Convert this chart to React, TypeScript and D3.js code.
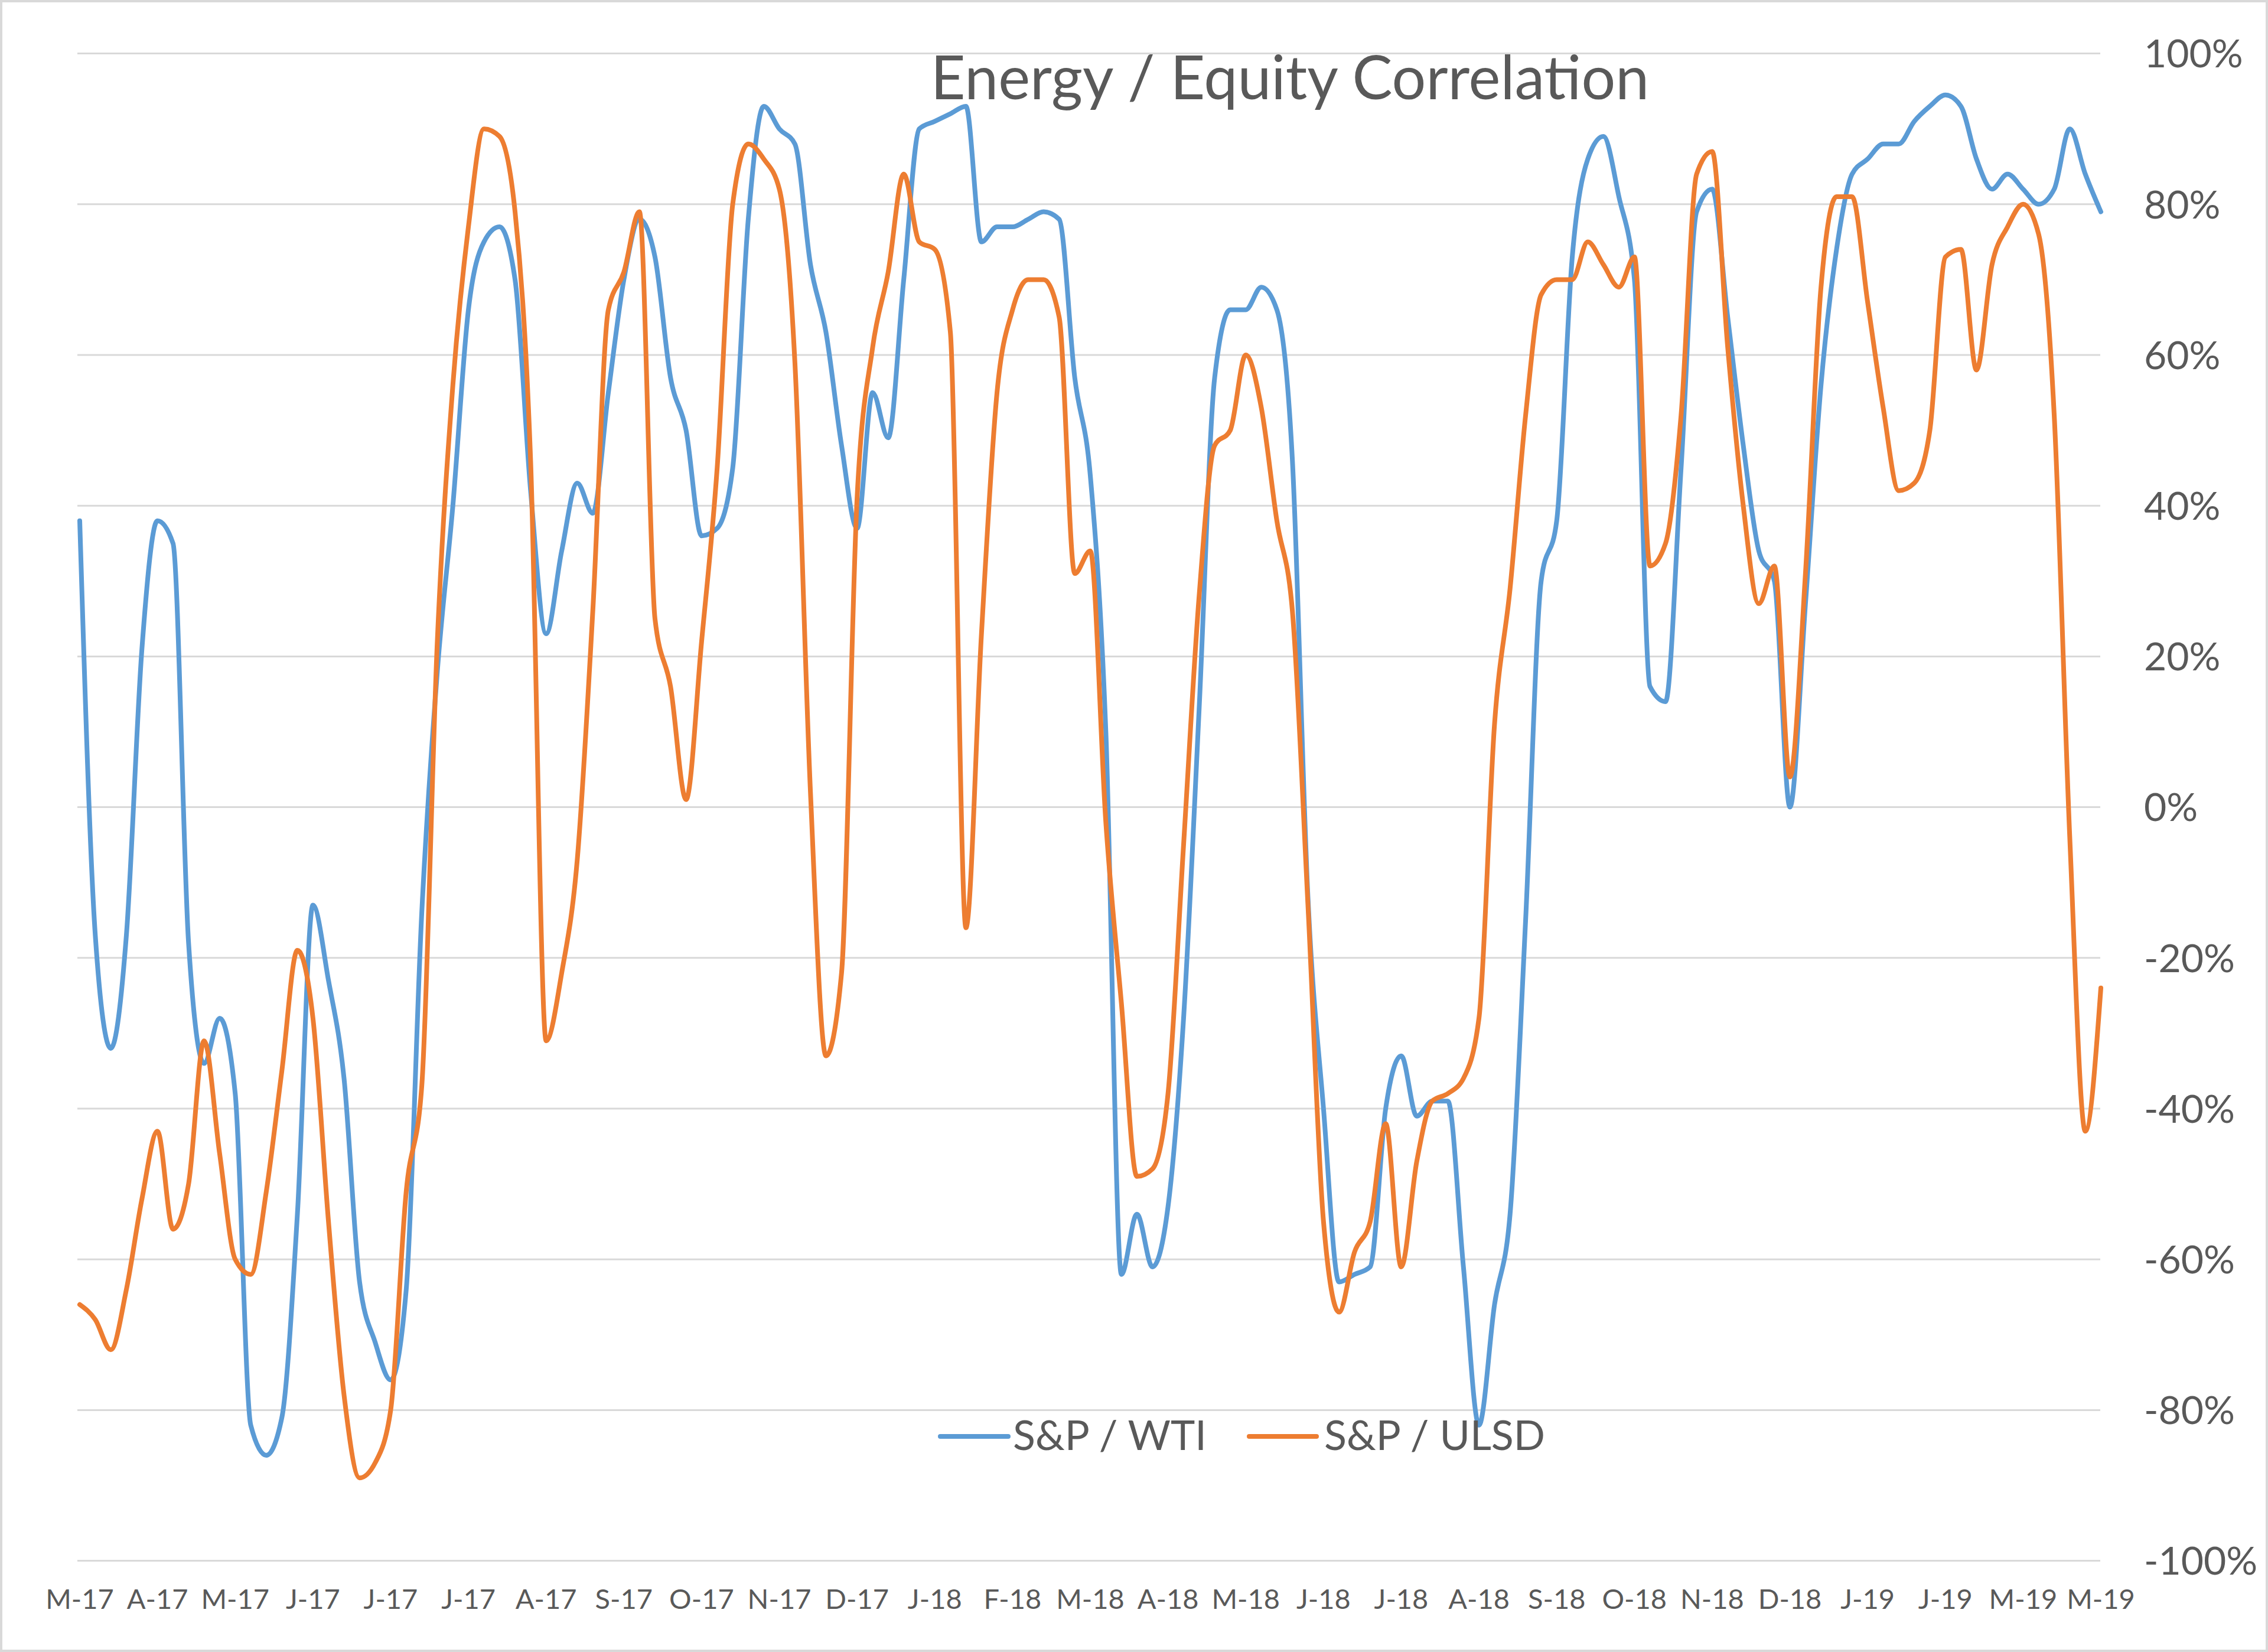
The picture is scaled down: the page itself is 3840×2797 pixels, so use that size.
import React from "react";
import * as d3 from "d3";

const W = 3840;
const H = 2797;

// one label every 5 samples
const xLabels = [
  "M-17", "A-17", "M-17", "J-17", "J-17", "J-17", "A-17", "S-17", "O-17",
  "N-17", "D-17", "J-18", "F-18", "M-18", "A-18", "M-18", "J-18", "J-18",
  "A-18", "S-18", "O-18", "N-18", "D-18", "J-19", "J-19", "M-19", "M-19",
];
const STEP = 5;

const yTicks = [100, 80, 60, 40, 20, 0, -20, -40, -60, -80, -100];

const spWti = [
  38, -17, -32, -17, 21, 38, 35, -18, -34, -28,
  -38, -82, -86, -81, -54, -13, -23, -36, -63, -71,
  -76, -64, -14, 18, 40, 66, 75, 77, 70, 42,
  23, 34, 43, 39, 55, 70, 78, 73, 57, 50,
  36, 37, 45, 78, 93, 90, 88, 72, 63, 48,
  37, 55, 49, 70, 90, 91, 92, 93, 75, 77,
  77, 78, 79, 78, 57, 44, 10, -62, -54, -61,
  -53, -28, 13, 57, 66, 66, 69, 66, 46, -12,
  -40, -63, -62, -61, -40, -33, -41, -39, -39, -61,
  -82, -66, -54, -15, 30, 38, 73, 86, 89, 81,
  70, 16, 14, 45, 79, 82, 65, 48, 34, 30,
  0, 27, 56, 74, 84, 86, 88, 88, 91, 93,
  94.5, 93, 86, 82, 84, 82, 80, 82, 90, 84,
  79,
];

const spUlsd = [
  -66, -68, -72, -64, -52, -43, -56, -50, -31, -46,
  -60, -62, -51, -35, -19, -28, -55, -78, -89, -87,
  -80, -51, -37, 22, 56, 77, 90, 89, 79, 46,
  -31, -22, -7, 26, 66, 71, 79, 25, 16, 1,
  22, 45, 80, 88, 86, 82, 59, 2, -33, -22,
  41, 61, 71, 84, 75, 74, 63, -16, 23, 55,
  66, 70, 70, 65, 31, 34, -2, -26, -49, -48,
  -38, -5, 28, 48, 50, 60, 53, 38, 26, -13,
  -55, -67, -59, -55, -42, -61, -47, -39, -38, -36,
  -28, 11, 29, 52, 68, 70, 70, 75, 72, 69,
  73, 32, 35, 52, 84, 87, 61, 40, 27, 32,
  4, 31, 69, 81, 81, 67, 53, 42, 43, 50,
  73, 74, 58, 72, 77, 80, 76, 52, -4, -43,
  -24,
];

const series = [
  { name: "S&P / WTI", values: spWti, color: "#5B9BD5" },
  { name: "S&P / ULSD", values: spUlsd, color: "#ED7D31" },
];

const FONT = "Lato, 'Open Sans', sans-serif";
const TEXT = "#595959";

export default function App() {
  const x = d3.scaleLinear().domain([0, spWti.length - 1]).range([135, 3557]);
  const y = d3.scaleLinear().domain([-100, 100]).range([2642.6, 90.6]);

  const line = d3
    .line<number>()
    .x((_, i) => x(i))
    .y((d) => y(d))
    .curve(d3.curveMonotoneX);

  return (
    <>
      <style>{`body{margin:0}`}</style>
      <svg width={W} height={H} style={{ display: "block" }}>
        <rect x={2} y={2} width={W - 4} height={H - 4} fill="#fff" stroke="#d9d9d9" strokeWidth={4} />

        {yTicks.map((t) => (
          <g key={t}>
            <line x1={131} x2={3556} y1={y(t)} y2={y(t)} stroke="#d9d9d9" strokeWidth={3} />
            <text x={3630} y={y(t)} dy="0.36em" fontFamily={FONT} fontSize={66} fill={TEXT}>
              {`${t}%`}
            </text>
          </g>
        ))}

        {xLabels.map((lab, k) => (
          <text
            key={k}
            x={x(k * STEP)}
            y={2724}
            textAnchor="middle"
            fontFamily={FONT}
            fontSize={47}
            fill={TEXT}
          >
            {lab}
          </text>
        ))}

        {series.map((s) => (
          <path
            key={s.name}
            d={line(s.values) || ""}
            fill="none"
            stroke={s.color}
            strokeWidth={8}
            strokeLinejoin="round"
            strokeLinecap="round"
          />
        ))}

        <text x={2184} y={168} textAnchor="middle" fontFamily={FONT} fontSize={102} fill={TEXT}>
          Energy / Equity Correlation
        </text>

        {/* legend */}
        <g fontFamily={FONT} fontSize={70} fill={TEXT}>
          <line x1={1592} x2={1707} y1={2432} y2={2432} stroke={series[0].color} strokeWidth={8} strokeLinecap="round" />
          <text x={1715} y={2455}>{series[0].name}</text>
          <line x1={2115} x2={2229} y1={2432} y2={2432} stroke={series[1].color} strokeWidth={8} strokeLinecap="round" />
          <text x={2242} y={2455}>{series[1].name}</text>
        </g>
      </svg>
    </>
  );
}
